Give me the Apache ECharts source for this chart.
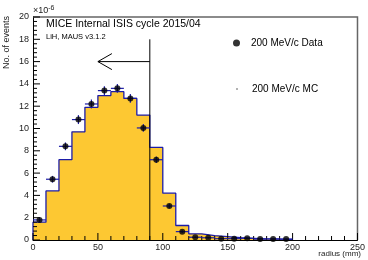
<!DOCTYPE html>
<html>
<head>
<meta charset="utf-8">
<script src="https://cdn.jsdelivr.net/npm/echarts@6/dist/echarts.min.js"></script>
<style>
html, body { margin: 0; padding: 0; background: #fff; }
#chart { width: 368px; height: 260px; }
</style>
</head>
<body>
<div id="chart"></div>
<script>
// bin left edges (mm), bin width 10
var binEdges = [0, 10, 20, 30, 40, 50, 60, 70, 80, 90, 100, 110, 120, 130, 140, 150, 160, 170, 180, 190];
// MC histogram, units of 1e-6
var mcValues = [1.6, 4.4, 7.2, 9.7, 11.9, 12.95, 13.3, 12.7, 11.2, 8.3, 4.2, 1.3, 0.55, 0.4, 0.3, 0.2, 0.15, 0.1, 0.08, 0.05];
// data points at bin centres
var dataValues = [1.8, 5.45, 8.4, 10.8, 12.2, 13.4, 13.6, 12.7, 10.05, 7.2, 3.05, 0.75, 0.25, 0.2, 0.12, 0.12, 0.15, 0.08, 0.1, 0.08];
var dataErrors = [0.2, 0.3, 0.35, 0.4, 0.4, 0.4, 0.4, 0.4, 0.35, 0.3, 0.2, 0.12, 0.07, 0.06, 0.05, 0.05, 0.05, 0.04, 0.04, 0.04];
var binWidth = 10;
var cutValue = 90;
var arrowY = 16;
var arrowTip = 50;
var cutTop = 18;
var xMax = 250, xMajor = 50, xMinor = 10;
var yMax = 20, yMajor = 2, yMinor = 0.4;

var font = '"Liberation Sans", Arial, Helvetica, sans-serif';

var mcStep = [[0, 0]];
binEdges.forEach(function(x, i) { mcStep.push([x, mcValues[i]]); });
mcStep.push([binEdges[binEdges.length - 1] + binWidth, mcValues[mcValues.length - 1]]);
mcStep.push([binEdges[binEdges.length - 1] + binWidth, 0]);

var points = binEdges.map(function(x, i) { return [x + binWidth / 2, dataValues[i], dataErrors[i]]; });

var charts = echarts.init(document.getElementById('chart'));
var option = {
    backgroundColor: '#fff',
    animation: false,
    grid: { left: 33, right: 7, top: 17, bottom: 20 },
    legend: [{
        left: 228, top: 33, orient: 'vertical',
        data: [{ name: '200 MeV/c Data', icon: 'circle' }],
        itemWidth: 7, itemHeight: 7,
        textStyle: { fontSize: 10, color: '#000', fontFamily: font, padding: [0, 0, 0, 6] }
    }, {
        left: 231, top: 79, orient: 'vertical',
        data: [{ name: '200 MeV/c MC', icon: 'circle', itemStyle: { color: '#999' } }],
        itemWidth: 2, itemHeight: 2,
        textStyle: { fontSize: 10, color: '#000', fontFamily: font, padding: [0, 0, 0, 9] }
    }],
    xAxis: {
        type: 'value', min: 0, max: xMax, interval: xMajor,
        axisLine: { show: true, lineStyle: { color: '#000', width: 1 } },
        axisTick: { show: false },
        axisLabel: { fontSize: 9, color: '#222', margin: 3, fontFamily: font },
        splitLine: { show: false }
    },
    yAxis: {
        type: 'value', min: 0, max: yMax, interval: yMajor,
        axisLine: { show: true, lineStyle: { color: '#000', width: 1 } },
        axisTick: { show: false },
        axisLabel: { fontSize: 9, color: '#222', margin: 4, fontFamily: font },
        splitLine: { show: false }
    },
    graphic: [{
        type: 'text', left: 46, top: 19,
        style: { text: 'MICE Internal ISIS cycle 2015/04', font: '10.5px ' + font, fill: '#000' }
    }, {
        type: 'text', left: 46, top: 33,
        style: { text: 'LiH, MAUS v3.1.2', font: '7.5px ' + font, fill: '#000' }
    }, {
        type: 'text', left: 33, top: 5,
        style: {
            text: '×10{sup|-6}', fill: '#222', font: '9px ' + font,
            rich: { sup: { fontSize: 7, verticalAlign: 'top', padding: [0, 0, 5, 0] } }
        }
    }, {
        type: 'text', x: 7, y: 16, rotation: Math.PI / 2,
        style: { text: 'No. of events', font: '9px ' + font, fill: '#222', align: 'right', verticalAlign: 'middle' }
    }, {
        type: 'text', right: 7, top: 250,
        style: { text: 'radius (mm)', font: '8px ' + font, fill: '#222' }
    }],
    series: [{
        name: '200 MeV/c MC',
        type: 'line',
        step: 'end',
        data: mcStep,
        symbol: 'none',
        lineStyle: { color: '#1c1ca8', width: 1.3 },
        areaStyle: { color: '#fdc832', opacity: 1 },
        itemStyle: { color: '#999' },
        z: 2
    }, {
        // cut line, arrow, frame and inside ticks
        type: 'custom',
        clip: false,
        data: [[cutValue, cutTop, arrowY, arrowTip]],
        renderItem: function(params, api) {
            var base = api.coord([api.value(0), 0]);
            var top = api.coord([api.value(0), api.value(1)]);
            var start = api.coord([api.value(0), api.value(2)]);
            var tip = api.coord([api.value(3), api.value(2)]);
            var st = { stroke: '#000', lineWidth: 1, fill: null };
            var kids = [
                { type: 'line', shape: { x1: base[0], y1: base[1], x2: top[0], y2: top[1] }, style: st },
                { type: 'line', shape: { x1: start[0], y1: start[1], x2: tip[0], y2: tip[1] }, style: st },
                { type: 'line', shape: { x1: tip[0], y1: tip[1], x2: tip[0] + 14, y2: tip[1] - 8 }, style: st },
                { type: 'line', shape: { x1: tip[0], y1: tip[1], x2: tip[0] + 14, y2: tip[1] + 8 }, style: st }
            ];
            var tl = api.coord([0, yMax]);
            var tr = api.coord([xMax, yMax]);
            var br = api.coord([xMax, 0]);
            kids.push({ type: 'polyline', shape: { points: [tl, tr, br] }, style: { stroke: '#666', lineWidth: 1.5, fill: null } });
            var i, p, len;
            for (i = 0; i * xMinor <= xMax + 1e-9; i++) {
                p = api.coord([i * xMinor, 0]);
                len = (i * xMinor) % xMajor === 0 ? 7 : 4;
                kids.push({ type: 'line', shape: { x1: p[0], y1: p[1], x2: p[0], y2: p[1] - len }, style: st });
            }
            for (i = 0; i * yMinor <= yMax + 1e-9; i++) {
                p = api.coord([0, i * yMinor]);
                len = i % 5 === 0 ? 7 : 4;
                kids.push({ type: 'line', shape: { x1: p[0], y1: p[1], x2: p[0] + len, y2: p[1] }, style: st });
            }
            return { type: 'group', children: kids };
        },
        z: 4
    }, {
        type: 'custom',
        data: points,
        renderItem: function(params, api) {
            var x = api.value(0), y = api.value(1), e = api.value(2);
            var l = api.coord([x - binWidth / 2, y]);
            var r = api.coord([x + binWidth / 2, y]);
            var lo = api.coord([x, Math.max(0, y - e)]);
            var hi = api.coord([x, y + e]);
            var st = { stroke: '#1c1ca8', lineWidth: 1.2 };
            return {
                type: 'group',
                children: [
                    { type: 'line', shape: { x1: l[0], y1: l[1], x2: r[0], y2: r[1] }, style: st },
                    { type: 'line', shape: { x1: lo[0], y1: lo[1], x2: hi[0], y2: hi[1] }, style: st }
                ]
            };
        },
        z: 5
    }, {
        name: '200 MeV/c Data',
        type: 'scatter',
        data: points.map(function(p) { return [p[0], p[1]]; }),
        symbol: 'circle',
        symbolSize: 6,
        itemStyle: { color: '#000' },
        z: 6
    }]
};
charts.setOption(option);
</script>
</body>
</html>
